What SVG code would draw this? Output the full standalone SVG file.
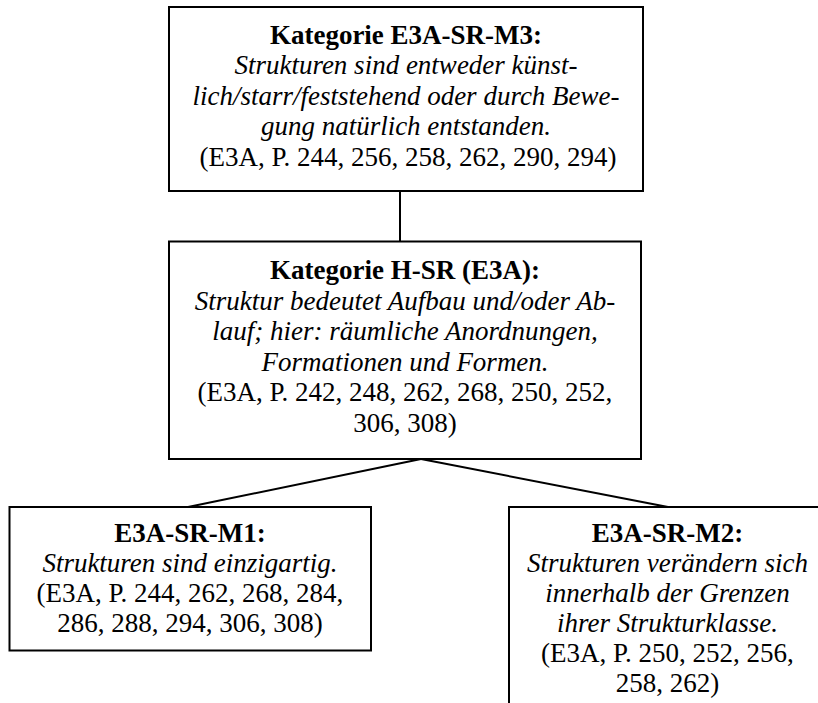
<svg xmlns="http://www.w3.org/2000/svg" width="818" height="703" viewBox="0 0 818 703">
  <style>
    .box { fill: #ffffff; stroke: #000000; stroke-width: 2; }
    .edge { stroke: #000000; stroke-width: 2; fill: none; }
    text { font-family: "Liberation Serif", "Times New Roman", serif; font-size: 27px; fill: #000000; text-anchor: middle; }
    .b { font-weight: bold; }
    .i { font-style: italic; }
  </style>
  <rect width="818" height="703" fill="#ffffff"/>

  <!-- connectors -->
  <g id="connectors">
    <line class="edge" x1="400" y1="191" x2="400" y2="241"/>
    <line class="edge" x1="421" y1="459" x2="188" y2="507"/>
    <line class="edge" x1="421" y1="459" x2="668" y2="507"/>
  </g>

  <!-- top category -->
  <g id="node-e3a-sr-m3">
    <rect class="box" x="169" y="7" width="474" height="184"/>
    <text class="b" x="406" y="43.5">Kategorie E3A-SR-M3:</text>
    <text class="i" x="406" y="74">Strukturen sind entweder künst-</text>
    <text class="i" x="406" y="104.5">lich/starr/feststehend oder durch Bewe-</text>
    <text class="i" x="406" y="135">gung natürlich entstanden.</text>
    <text x="408" y="165.5">(E3A, P. 244, 256, 258, 262, 290, 294)</text>
  </g>

  <!-- main category -->
  <g id="node-h-sr">
    <rect class="box" x="169" y="241.5" width="472" height="217.5"/>
    <text class="b" x="405" y="279">Kategorie H-SR (E3A):</text>
    <text class="i" x="405" y="309.5">Struktur bedeutet Aufbau und/oder Ab-</text>
    <text class="i" x="405" y="340">lauf; hier: räumliche Anordnungen,</text>
    <text class="i" x="405" y="370.5">Formationen und Formen.</text>
    <text x="405" y="401">(E3A, P. 242, 248, 262, 268, 250, 252,</text>
    <text x="405" y="431.5">306, 308)</text>
  </g>

  <!-- subcategory M1 -->
  <g id="node-e3a-sr-m1">
    <rect class="box" x="9.5" y="507" width="361.5" height="143.5"/>
    <text class="b" x="190" y="542">E3A-SR-M1:</text>
    <text class="i" x="190" y="572">Strukturen sind einzigartig.</text>
    <text x="190" y="602">(E3A, P. 244, 262, 268, 284,</text>
    <text x="190" y="632">286, 288, 294, 306, 308)</text>
  </g>

  <!-- subcategory M2 -->
  <g id="node-e3a-sr-m2">
    <rect class="box" x="509" y="507" width="318" height="220"/>
    <text class="b" x="667.5" y="542">E3A-SR-M2:</text>
    <text class="i" x="667.5" y="572">Strukturen verändern sich</text>
    <text class="i" x="667.5" y="602">innerhalb der Grenzen</text>
    <text class="i" x="667.5" y="632">ihrer Strukturklasse.</text>
    <text x="667.5" y="662">(E3A, P. 250, 252, 256,</text>
    <text x="667.5" y="692">258, 262)</text>
  </g>
</svg>
